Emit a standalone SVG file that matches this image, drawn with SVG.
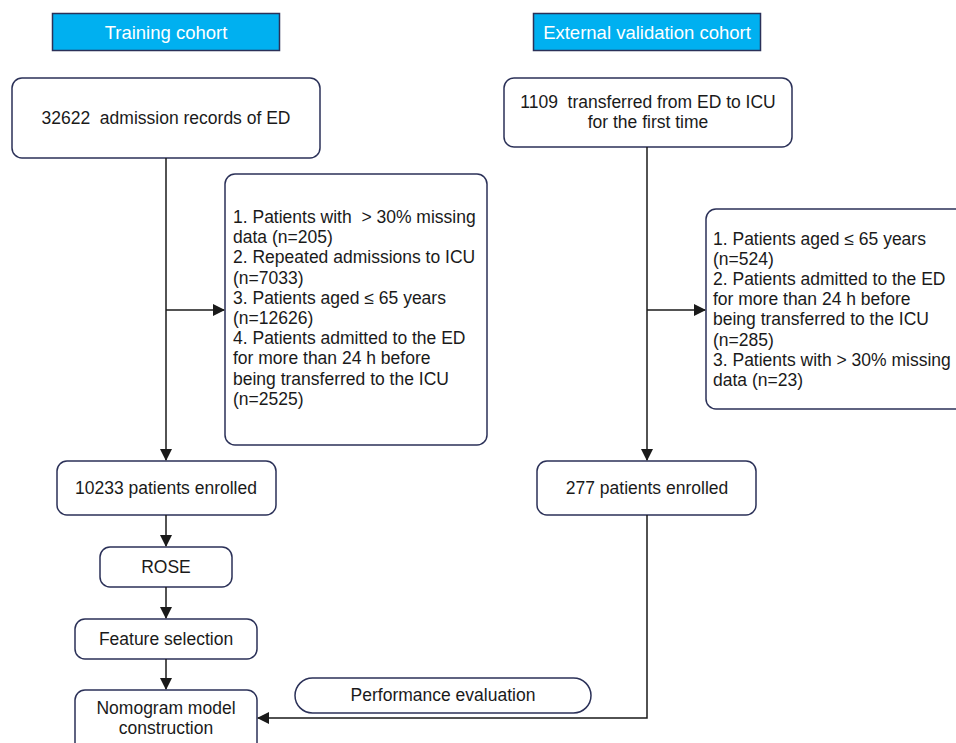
<svg xmlns="http://www.w3.org/2000/svg" width="956" height="743" viewBox="0 0 956 743">
<defs>
<marker id="arr" markerWidth="12" markerHeight="12" refX="11" refY="6" orient="auto" markerUnits="userSpaceOnUse">
<path d="M0,0 L12,6 L0,12 Z" fill="#1a1a1a"/>
</marker>
<style>
text{white-space:pre}
.hdr{fill:#00B0F0;stroke:#2B3158;stroke-width:1.5}
.hdrt{fill:#ffffff;font-family:"Liberation Sans",Arial,sans-serif;font-size:18.5px;text-anchor:middle}
.box{fill:#ffffff;stroke:#2B3158;stroke-width:1.5}
.t{fill:#1a1a1a;font-family:"Liberation Sans",Arial,sans-serif;font-size:17.5px;text-anchor:middle}
.tl{fill:#1a1a1a;font-family:"Liberation Sans",Arial,sans-serif;font-size:17.5px}
.c{fill:none;stroke:#1a1a1a;stroke-width:1.5}
</style>
</defs>
<rect width="956" height="743" fill="#ffffff"/>
<g id="hdr-train"><rect class="hdr" x="52.5" y="13.5" width="227" height="37"/><text class="hdrt" x="166" y="38.5">Training cohort</text></g>
<g id="hdr-ext"><rect class="hdr" x="533.5" y="13.5" width="227" height="37"/><text class="hdrt" x="647" y="38.5">External validation cohort</text></g>
<g id="n1"><rect class="box" x="12" y="78" width="308" height="80" rx="10"/><text class="t" x="166" y="124" xml:space="preserve">32622  admission records of ED</text></g>
<g id="n2"><rect class="box" x="225" y="174" width="262" height="271" rx="10"/>
<text class="tl" x="233" y="223" xml:space="preserve">1. Patients with  &gt; 30% missing</text>
<text class="tl" x="233" y="243.2">data (n=205)</text>
<text class="tl" x="233" y="263.4">2. Repeated admissions to ICU</text>
<text class="tl" x="233" y="283.6">(n=7033)</text>
<text class="tl" x="233" y="303.8">3. Patients aged ≤ 65 years</text>
<text class="tl" x="233" y="324">(n=12626)</text>
<text class="tl" x="233" y="344.2">4. Patients admitted to the ED</text>
<text class="tl" x="233" y="364.4">for more than 24 h before</text>
<text class="tl" x="233" y="384.6">being transferred to the ICU</text>
<text class="tl" x="233" y="404.8">(n=2525)</text>
</g>
<g id="n3"><rect class="box" x="57" y="461" width="219" height="54" rx="10"/><text class="t" x="166" y="494">10233 patients enrolled</text></g>
<g id="n4"><rect class="box" x="100" y="547" width="132" height="40" rx="10"/><text class="t" x="166" y="573">ROSE</text></g>
<g id="n5"><rect class="box" x="75" y="619" width="182" height="40" rx="10"/><text class="t" x="166" y="645">Feature selection</text></g>
<g id="n6"><rect class="box" x="75" y="690" width="182" height="70" rx="10"/><text class="t" x="166" y="714">Nomogram model</text><text class="t" x="166" y="734">construction</text></g>
<g id="m1"><rect class="box" x="504" y="78" width="288" height="69" rx="10"/><text class="t" x="648" y="108" xml:space="preserve">1109  transferred from ED to ICU</text><text class="t" x="648" y="128">for the first time</text></g>
<g id="m2"><rect class="box" x="706" y="209" width="262" height="200" rx="10"/>
<text class="tl" x="713" y="245">1. Patients aged ≤ 65 years</text>
<text class="tl" x="713" y="265.1">(n=524)</text>
<text class="tl" x="713" y="285.2">2. Patients admitted to the ED</text>
<text class="tl" x="713" y="305.3">for more than 24 h before</text>
<text class="tl" x="713" y="325.4">being transferred to the ICU</text>
<text class="tl" x="713" y="345.5">(n=285)</text>
<text class="tl" x="713" y="365.6">3. Patients with &gt; 30% missing</text>
<text class="tl" x="713" y="385.7">data (n=23)</text>
</g>
<g id="m3"><rect class="box" x="537" y="461" width="219" height="54" rx="10"/><text class="t" x="647" y="494">277 patients enrolled</text></g>
<g id="perf"><rect class="box" x="295" y="678" width="296" height="35" rx="17.5"/><text class="t" x="443" y="701">Performance evaluation</text></g>
<g id="connectors">
<path class="c" d="M166,158 V460" marker-end="url(#arr)"/>
<path class="c" d="M166,310 H224" marker-end="url(#arr)"/>
<path class="c" d="M166,515 V546" marker-end="url(#arr)"/>
<path class="c" d="M166,587 V618" marker-end="url(#arr)"/>
<path class="c" d="M166,659 V689" marker-end="url(#arr)"/>
<path class="c" d="M647,147 V460" marker-end="url(#arr)"/>
<path class="c" d="M647,310 H705" marker-end="url(#arr)"/>
<path class="c" d="M647,515 V718 H258" marker-end="url(#arr)"/>
</g>
</svg>
